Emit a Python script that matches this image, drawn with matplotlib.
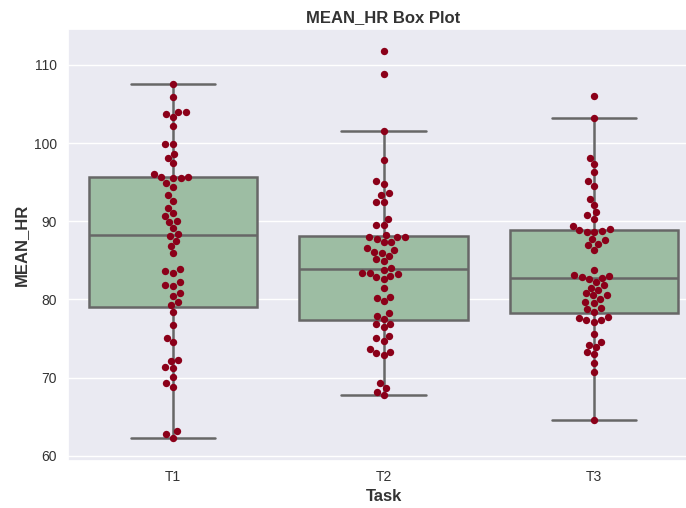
import matplotlib
matplotlib.use("Agg")
import matplotlib.pyplot as plt
import seaborn as sns
import pandas as pd

tasks = ["T1", "T2", "T3"]

t1_values = [107.5, 105.9, 103.7, 104.0, 104.0, 103.3, 102.2, 99.9, 99.9, 98.6,
             98.1, 97.4, 96.0, 95.6, 95.5, 95.5, 95.7, 94.9, 94.4, 93.3,
             92.6, 91.7, 91.0, 90.7, 90.0, 89.9, 89.1, 88.4, 88.1, 87.5,
             86.8, 85.9, 83.6, 83.4, 83.9, 81.8, 81.7, 82.2, 80.8, 80.4,
             79.7, 79.3, 78.4, 76.7, 75.1, 74.5, 72.1, 72.2, 71.3, 71.2,
             70.1, 69.3, 68.8, 62.8, 63.1, 62.3]

t2_values = [111.8, 108.9, 101.6, 97.8, 95.1, 94.8, 93.6, 93.4, 92.5, 92.5,
             90.3, 89.5, 89.5, 88.0, 87.7, 88.2, 87.3, 87.4, 88.0, 88.0,
             86.1, 86.0, 86.3, 86.6, 85.6, 85.2, 84.9, 84.0, 83.8, 83.4,
             83.4, 82.9, 82.6, 83.0, 83.2, 81.4, 80.2, 79.8, 80.3, 77.9,
             78.2, 77.5, 76.8, 76.5, 76.9, 75.0, 74.7, 75.3, 73.7, 73.1,
             72.9, 73.3, 69.3, 68.7, 68.2, 67.8]

t3_values = [106.0, 103.2, 98.1, 97.3, 96.3, 95.1, 94.5, 92.9, 92.1, 91.2,
             90.8, 90.3, 89.4, 88.9, 88.6, 88.6, 88.8, 89.0, 87.7, 87.6,
             87.1, 86.9, 86.3, 83.7, 83.1, 82.6, 83.0, 82.8, 82.9, 82.2,
             81.8, 81.5, 81.2, 80.8, 80.5, 80.5, 80.1, 79.7, 79.5, 78.9,
             78.8, 78.4, 77.6, 77.3, 77.1, 77.4, 77.8, 75.6, 74.6, 73.9,
             74.2, 73.3, 73.0, 71.8, 70.7, 64.6]

yticks = [60, 70, 80, 90, 100, 110]

df = pd.DataFrame({
    "Task": ["T1"] * len(t1_values) + ["T2"] * len(t2_values) + ["T3"] * len(t3_values),
    "MEAN_HR": t1_values + t2_values + t3_values,
})

sns.set_theme(style="darkgrid")
plt.rcParams["font.family"] = ["Liberation Sans", "DejaVu Sans"]

fig = plt.figure(figsize=(6.86, 5.08), dpi=100)
ax = fig.add_axes([67.75 / 686, (508 - 460.7) / 508, 631.5 / 686, (460.7 - 29) / 508])

sns.boxplot(data=df, x="Task", y="MEAN_HR", order=tasks, ax=ax,
            color="#9dbda3", saturation=1, width=0.8, linewidth=1.8,
            linecolor="#676767", fliersize=0)
sns.swarmplot(data=df, x="Task", y="MEAN_HR", order=tasks, ax=ax,
              color="#8b0019", size=5.3, linewidth=0)

ax.set_xlim(-0.5, 2.5)
ax.set_ylim(59.36, 114.6)
ax.set_yticks(yticks)
ax.set_title("MEAN_HR Box Plot", fontsize=12, fontweight="bold", color="#333333", pad=5)
ax.set_xlabel("Task", fontsize=12, fontweight="bold", color="#333333", labelpad=3)
ax.set_ylabel("MEAN_HR", fontsize=12, fontweight="bold", color="#333333", labelpad=3)
ax.tick_params(axis="x", labelsize=10, colors="#333333", pad=1)
ax.tick_params(axis="y", labelsize=10, colors="#333333", pad=2)

fig.savefig("out.png", dpi=100)
